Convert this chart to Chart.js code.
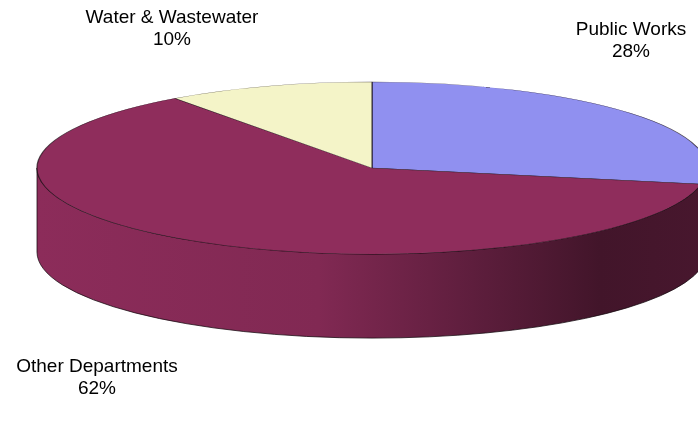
<!DOCTYPE html>
<html>
<head>
<meta charset="utf-8">
<script src="https://cdn.jsdelivr.net/npm/chart.js@4.4.0/dist/chart.umd.min.js"></script>
<style>
  html,body{margin:0;padding:0;background:#fff}
  #wrap{width:698px;height:430px;position:relative}
</style>
</head>
<body>
<div id="wrap"><canvas id="pie"></canvas></div>
<script>
// data
const categories = ['Public Works', 'Other Departments', 'Water & Wastewater'];
const shares = [28, 62, 10];
const sliceColors = ['#9090f0', '#8f2d5c', '#f4f4c8'];

// look of the fake 3d
const TILT = 0.257;   // vertical squash of the top face
const DEPTH = 84;     // wall height in px
// label anchors (centre of first line), one per category
const labelPos = [[631, 30], [97, 367], [172, 18]];

function shade(hex, f){
  const n = parseInt(hex.slice(1), 16);
  const r = Math.round(((n >> 16) & 255) * f);
  const g = Math.round(((n >> 8) & 255) * f);
  const b = Math.round((n & 255) * f);
  return `rgb(${r},${g},${b})`;
}

const pie3d = {
  id: 'pie3d',
  beforeDatasetsDraw(chart){
    const ctx = chart.ctx;
    const meta = chart.getDatasetMeta(0);

    // side walls: only the front half (0..PI) can be seen
    meta.data.forEach((arc, i)=>{
      const p = arc.getProps(['x','y','startAngle','endAngle','outerRadius'], true);
      const a1 = Math.max(p.startAngle, 0);
      const a2 = Math.min(p.endAngle, Math.PI);
      if(a2 <= a1) return;
      const r = p.outerRadius, ry = r * TILT;
      const base = sliceColors[i];
      const grad = ctx.createLinearGradient(p.x - r, 0, p.x + r, 0);
      grad.addColorStop(0, shade(base, 0.98));
      grad.addColorStop(0.42, shade(base, 0.9));
      grad.addColorStop(0.65, shade(base, 0.66));
      grad.addColorStop(0.84, shade(base, 0.46));
      grad.addColorStop(1, shade(base, 0.5));
      ctx.save();
      ctx.beginPath();
      ctx.moveTo(p.x + r*Math.cos(a1), p.y + ry*Math.sin(a1));
      ctx.ellipse(p.x, p.y, r, ry, 0, a1, a2);
      ctx.lineTo(p.x + r*Math.cos(a2), p.y + ry*Math.sin(a2) + DEPTH);
      ctx.ellipse(p.x, p.y + DEPTH, r, ry, 0, a2, a1, true);
      ctx.closePath();
      ctx.fillStyle = grad;
      ctx.fill();
      ctx.lineWidth = 1;
      ctx.strokeStyle = 'rgba(20,10,15,0.75)';
      ctx.stroke();
      ctx.restore();
    });

    // top face: library arcs, squashed
    meta.data.forEach(arc=>{
      const {x, y} = arc.getProps(['x','y'], true);
      ctx.save();
      ctx.translate(x, y);
      ctx.scale(1, TILT);
      ctx.translate(-x, -y);
      arc.draw(ctx);
      ctx.restore();
    });
    return false;
  },
  afterDraw(chart){
    const ctx = chart.ctx;
    ctx.save();
    ctx.font = '19px "Liberation Sans", Arial, sans-serif';
    ctx.fillStyle = '#000';
    ctx.textAlign = 'center';
    ctx.textBaseline = 'middle';
    categories.forEach((c, i)=>{
      const [lx, ly] = labelPos[i];
      ctx.fillText(c, lx, ly);
      ctx.fillText(shares[i] + '%', lx, ly + 22);
    });
    ctx.restore();
  }
};

new Chart(document.getElementById('pie'), {
  type: 'pie',
  data: {
    labels: categories,
    datasets: [{
      data: shares,
      backgroundColor: sliceColors,
      borderColor: 'rgba(20,10,15,0.7)',
      borderWidth: 1.2
    }]
  },
  options: {
    responsive: true,
    maintainAspectRatio: false,
    animation: false,
    radius: 335,
    layout: { padding: { left: 46, right: 0, top: 0, bottom: 94 } },
    plugins: { legend: { display: false }, tooltip: { enabled: false } }
  },
  plugins: [pie3d]
});
</script>
</body>
</html>
